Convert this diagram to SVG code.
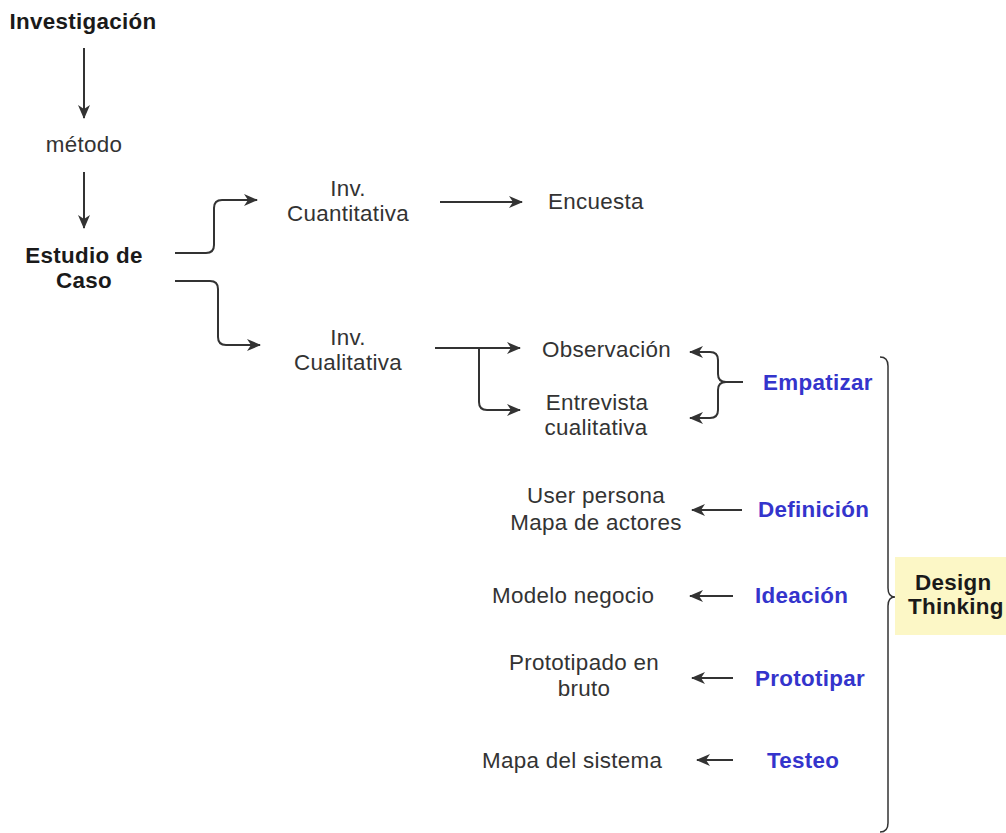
<svg xmlns="http://www.w3.org/2000/svg" width="1006" height="833" viewBox="0 0 1006 833">
<style>
.t{font-family:"Liberation Sans",Arial,sans-serif;font-size:22.4px;fill:#333333;letter-spacing:0.3px}
.b{font-family:"Liberation Sans",Arial,sans-serif;font-size:22.4px;font-weight:bold;fill:#1a1a1a;letter-spacing:0.3px}
.bl{font-family:"Liberation Sans",Arial,sans-serif;font-size:22.4px;font-weight:bold;fill:#3434cc;letter-spacing:0.3px}
.c{text-anchor:middle}
.e{fill:none;stroke:#333333;stroke-width:2}
</style>
<defs>
<marker id="ah" viewBox="0 0 14 12" refX="13" refY="6" markerWidth="14" markerHeight="12" markerUnits="userSpaceOnUse" orient="auto">
<path d="M0,0 L14,6 L0,12 L4,6 Z" fill="#333333"/>
</marker>
</defs>
<rect width="1006" height="833" fill="#ffffff"/>
<g id="connectors">
<path class="e" d="M84,48 V118" marker-end="url(#ah)"/>
<path class="e" d="M84,172 V228" marker-end="url(#ah)"/>
<path class="e" d="M175,253 H206 Q214,253 214,245 V208 Q214,200 222,200 H257" marker-end="url(#ah)"/>
<path class="e" d="M175,281 H210 Q218,281 218,289 V337 Q218,345 226,345 H260" marker-end="url(#ah)"/>
<path class="e" d="M440,202 H522" marker-end="url(#ah)"/>
<path class="e" d="M435,348 H520" marker-end="url(#ah)"/>
<path class="e" d="M479,348 V402 Q479,410 487,410 H520" marker-end="url(#ah)"/>
<path class="e" d="M743,382 H726 Q718,382 718,374 V360 Q718,352 710,352 H690" marker-end="url(#ah)"/>
<path class="e" d="M743,382 H726 Q718,382 718,390 V410 Q718,418 710,418 H690" marker-end="url(#ah)"/>
<path class="e" d="M742,510 H692" marker-end="url(#ah)"/>
<path class="e" d="M733,596 H690" marker-end="url(#ah)"/>
<path class="e" d="M733,678 H692" marker-end="url(#ah)"/>
<path class="e" d="M733,760 H697" marker-end="url(#ah)"/>
</g>
<g id="investigacion"><text class="b c" x="83" y="29">Investigación</text></g>
<g id="metodo"><text class="t c" x="84" y="152">método</text></g>
<g id="estudio"><text class="b c" x="84" y="263">Estudio de</text><text class="b c" x="84" y="288">Caso</text></g>
<g id="cuantitativa"><text class="t c" x="348" y="196">Inv.</text><text class="t c" x="348" y="221">Cuantitativa</text></g>
<g id="encuesta"><text class="t" x="548" y="209">Encuesta</text></g>
<g id="cualitativa"><text class="t c" x="348" y="345">Inv.</text><text class="t c" x="348" y="370">Cualitativa</text></g>
<g id="observacion"><text class="t" x="542" y="357">Observación</text></g>
<g id="entrevista"><text class="t c" x="597" y="410">Entrevista</text><text class="t c" x="596" y="435">cualitativa</text></g>
<g id="empatizar"><text class="bl" x="763" y="390">Empatizar</text></g>
<g id="userpersona"><text class="t c" x="596" y="503">User persona</text><text class="t c" x="596" y="530">Mapa de actores</text></g>
<g id="definicion"><text class="bl" x="758" y="517">Definición</text></g>
<g id="modelo"><text class="t" x="492" y="603">Modelo negocio</text></g>
<g id="ideacion"><text class="bl" x="755" y="603">Ideación</text></g>
<g id="prototipado"><text class="t c" x="584" y="670">Prototipado en</text><text class="t c" x="584" y="696">bruto</text></g>
<g id="prototipar"><text class="bl" x="755" y="686">Prototipar</text></g>
<g id="mapasistema"><text class="t" x="482" y="768">Mapa del sistema</text></g>
<g id="testeo"><text class="bl" x="767" y="768">Testeo</text></g>
<g id="brace"><path fill="none" stroke="#333333" stroke-width="1.5" d="M880,357 Q888,357 888,366 V588 Q888,597 895,597 Q888,597 888,606 V823 Q888,832 880,832"/></g>
<g id="designthinking">
<rect x="895" y="557" width="115" height="78" fill="#fcf7c6"/>
<text class="b" x="915" y="590">Design</text>
<text class="b" x="908" y="614">Thinking</text>
</g>
</svg>
